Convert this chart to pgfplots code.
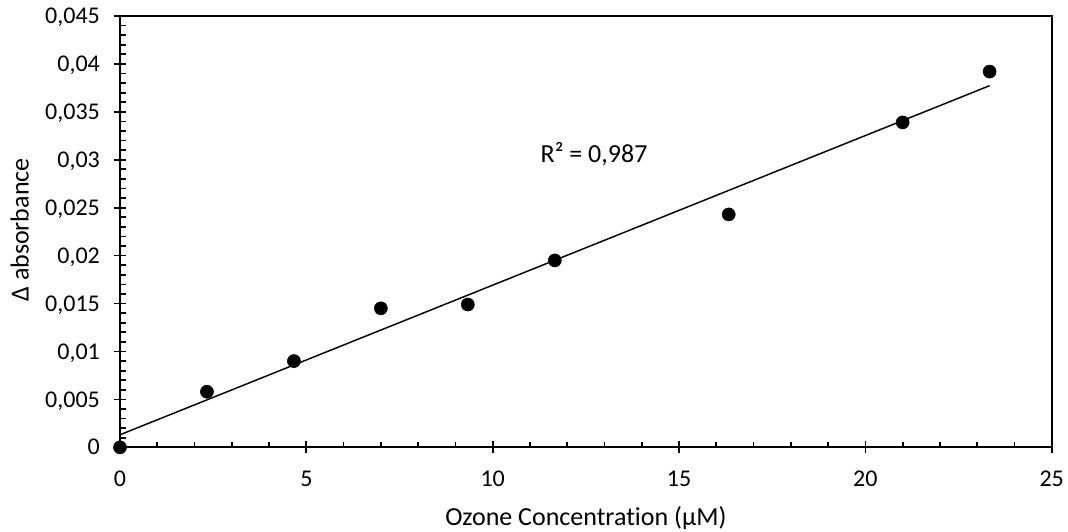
\documentclass[border=0pt]{standalone}
\usepackage{fontspec}
\setmainfont{Carlito}[Ligatures={NoCommon}]
\usepackage{pgfplots}
\pgfplotsset{compat=1.18}

\pgfplotstableread{
x       y
0       0
2.333   0.0058
4.667   0.0090
7.000   0.0145
9.333   0.0149
11.667  0.0195
16.333  0.0243
21.000  0.0339
23.333  0.0392
}\measured

% least-squares line through the measured points
\pgfplotstableread{
x       y
0       0.00131
23.333  0.03773
}\trend

\begin{document}
\begin{tikzpicture}
\useasboundingbox (-90pt,-62.8pt) rectangle (711pt,335.5pt);
\begin{axis}[
  at={(0,0)}, anchor=south west,
  scale only axis,
  width=698.8pt, height=323.5pt,
  xmin=0, xmax=25, ymin=0, ymax=0.045,
  xtick={0,5,...,25},
  ytick={0,0.005,...,0.045},
  minor x tick num=4,
  minor y tick num=4,
  xtick pos=left, ytick pos=left,
  tick align=inside,
  major tick length=9pt,
  minor tick length=4.3pt,
  every major x tick/.append style={yshift=-4.5pt},
  every major y tick/.append style={xshift=-4.5pt},
  every tick/.style={black, line width=1.3pt},
  axis line style={line width=1.3pt},
  scaled y ticks=false,
  /pgf/number format/.cd, use comma, fixed, precision=3, assume math mode=true,
  /pgfplots/.cd,
  ticklabel style={font=\fontsize{18}{21}\selectfont},
  xticklabel style={anchor=base, yshift=-29.5pt},
  yticklabel style={anchor=base east, xshift=-11.6pt, yshift=-5.7pt},
  % the kern keeps "t" and "i" as separate glyphs
  xlabel={Ozone Concentrat\kern0pt ion (μM)},
  ylabel={Δ absorbance},
  label style={font=\fontsize{19.5}{23}\selectfont},
  xlabel style={at={(axis description cs:0.5,0)}, anchor=base, yshift=-58.3pt},
  ylabel style={at={(axis description cs:0,0.5)}, anchor=base, yshift=68.6pt, xshift=1.3pt},
  clip=false,
]
\addplot[black, line width=1.1pt] table[x=x, y=y] {\trend};
\addplot[only marks, mark=*, mark size=4.9pt, black] table[x=x, y=y] {\measured};
\node[font=\fontsize{19.5}{23}\selectfont, anchor=base] at (axis cs:12.72,0.0297) {R² = 0,987};
\end{axis}
\end{tikzpicture}
\end{document}
